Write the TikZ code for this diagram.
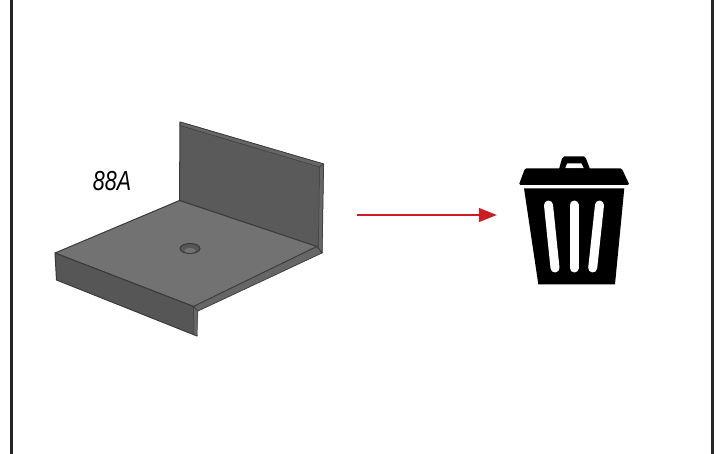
\documentclass[tikz,border=0pt]{standalone}
\usepackage{xcolor}
\usepackage{fontspec}
\setmainfont{Liberation Sans}
\usetikzlibrary{arrows.meta}
\definecolor{wallgray}{HTML}{5A5A5A}
\definecolor{floorgray}{HTML}{727272}
\definecolor{flangegray}{HTML}{565656}
\definecolor{rimgray}{HTML}{666666}
\definecolor{edgegray}{HTML}{3A3A3A}
\definecolor{arrowred}{HTML}{CC1D23}
\tikzset{
  partface/.style={draw=edgegray,line width=1pt,line join=round},
  slotline/.style={white,line width=9pt,line cap=round},
  framerule/.style={line width=2.4pt,black!85}
}

\begin{document}
\begin{tikzpicture}[x=1pt,y=-1pt]
\useasboundingbox (0,0) rectangle (720,454);

% Frame sides
\draw[framerule] (11.5,0) -- (11.5,454);
\draw[framerule] (712.5,0) -- (712.5,454);

% Back wall of the part
\draw[partface,fill=wallgray] (180,122) -- (323.5,164) -- (322,253) -- (316.5,247) -- (179.5,200.5) -- cycle;
\draw[partface,fill=rimgray,line width=0.5pt] (180,122) -- (323.5,164) -- (319.5,167) -- (180,125.5) -- cycle;
\draw[partface,fill=rimgray,line width=0.5pt] (319.5,167) -- (323.5,164) -- (322,253) -- (318.5,248) -- cycle;

% Floor plate
\draw[partface,fill=floorgray] (55,253) -- (179.5,200.5) -- (317,246.5) -- (193.5,306.5) -- cycle;

% Edge under the floor plate
\draw[partface,fill=rimgray,line width=0.7pt] (193.5,306.5) -- (317,246.5) -- (322,253) -- (198,311) -- cycle;

% Front flange
\draw[partface,fill=flangegray] (55,253) -- (193.5,306.5) -- (197,336) -- (56.5,280) -- cycle;
\draw[partface,fill=rimgray,line width=0.5pt] (193.5,306.5) -- (198,311) -- (197,336) -- (194,334.5) -- cycle;

% Hole in the floor plate
\draw[edgegray,fill=flangegray,line width=1pt] (190,248.5) ellipse (10 and 5);
\fill[floorgray] (190,250.5) ellipse (6 and 2.4);

% Label of the part
\node[font=\itshape,xscale=2.15,yscale=2.75] (partlabel) at (112,181.5) {88A};

% Arrow to the bin
\coordinate (arrowstart) at (357,215);
\coordinate (arrowend) at (497,215);
\draw[arrowred,line width=2.4pt,-{Triangle[length=18pt,width=13.5pt]}] (arrowstart) -- (arrowend);

% Lid and handle of the bin
\fill[even odd rule] (559,169) -- (562,158.5) -- (564,156.5) -- (584,156.5) -- (586,158.5) -- (590,169) -- cycle
  (565,168.5) -- (567,163.5) -- (581.5,163.5) -- (584,168.5) -- cycle;
\fill[rounded corners=1.5pt] (525,168.3) -- (621.7,168.3) -- (629.5,185) -- (518.8,185) -- cycle;

% Body of the bin
\fill (524,188.3) -- (624.3,188.3) -- (615,284.3) -- (538.3,284.3) -- cycle;
\draw[slotline] (548.5,205) -- (555,268);
\draw[slotline] (574,205) -- (574,268);
\draw[slotline] (599.5,205) -- (592.7,268);
\end{tikzpicture}
\end{document}
